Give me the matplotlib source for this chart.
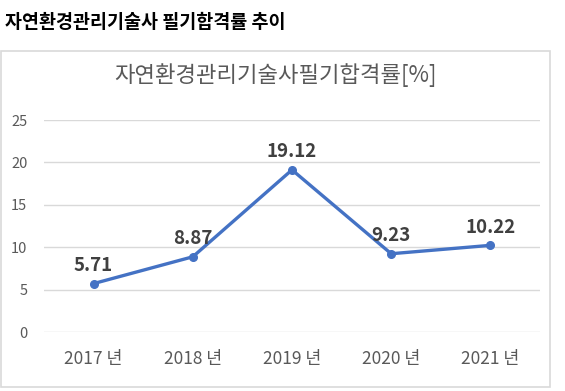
import matplotlib.pyplot as plt
from matplotlib.patches import Rectangle

plt.rcParams['font.family'] = ['Noto Sans CJK KR', 'DejaVu Sans']

years = ["2017 년", "2018 년", "2019 년", "2020 년", "2021 년"]
rates = [5.71, 8.87, 19.12, 9.23, 10.22]
yticks = [0, 5, 10, 15, 20, 25]

W, H = 565, 391
fig = plt.figure(figsize=(W / 100, H / 100), dpi=100)

# chart frame
fig.patches.append(Rectangle((1 / W, 1 - 387 / H), 549 / W, 336 / H,
                             transform=fig.transFigure, fill=False,
                             edgecolor='#d9d9d9', linewidth=1.2))

fig.text(5 / W, 1 - 23 / H, "자연환경관리기술사 필기합격률 추이",
         fontsize=13.3, fontweight='bold', color='black', va='center', ha='left')
fig.text(275 / W, 1 - 75 / H, "자연환경관리기술사필기합격률[%]",
         fontsize=16, color='#595959', va='center', ha='center')

ax = fig.add_axes([44 / W, 1 - 332 / H, 496 / W, 212 / H])
x = list(range(len(years)))
ax.plot(x, rates, color='#4472C4', linewidth=2.4, marker='o', markersize=5.5)
for xi, v in zip(x, rates):
    ax.annotate(f"{v:.2f}", (xi, v), xytext=(0, 13), textcoords='offset points',
                ha='center', va='center', fontsize=13.5, fontweight='bold',
                color='#404040')

ax.set_xlim(-0.5, len(years) - 0.5)
ax.set_ylim(0, 25)
ax.set_yticks(yticks)
ax.set_xticks(x)
ax.set_xticklabels(years)
ax.grid(axis='y', color='#d9d9d9', linewidth=1)
ax.set_axisbelow(True)
for s in ax.spines.values():
    s.set_visible(False)
ax.tick_params(axis='y', length=0, pad=12, labelsize=10.5, labelcolor='#595959')
ax.tick_params(axis='x', length=0, pad=13, labelsize=12.5, labelcolor='#595959')

fig.savefig("out.png", dpi=100)
